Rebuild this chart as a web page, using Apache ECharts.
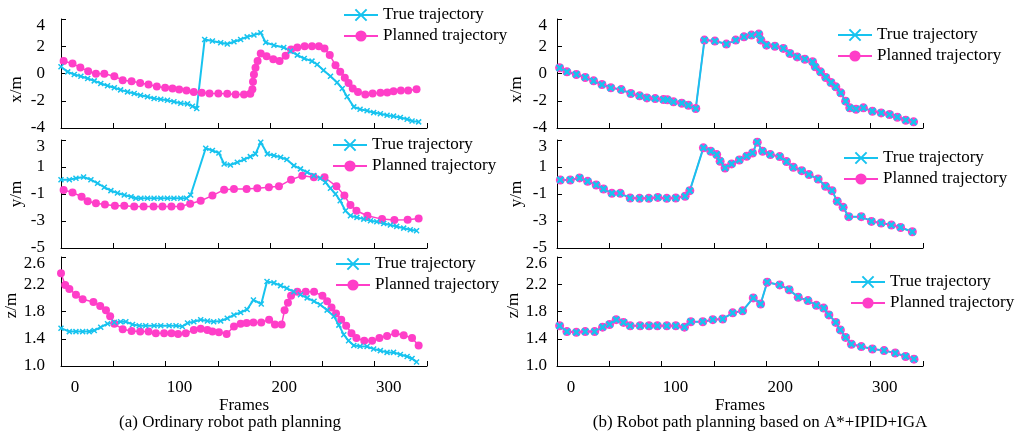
<!DOCTYPE html>
<html>
<head>
<meta charset="utf-8">
<script src="https://cdn.jsdelivr.net/npm/echarts@6/dist/echarts.min.js"></script>
<style>
html, body { margin: 0; padding: 0; background: #fff; }
#main { width: 1028px; height: 435px; }
</style>
</head>
<body>
<div id="main"></div>
<script>
// (a) ordinary path planning, [frame, value]
var aXTrue = [[0,0.49],[6.4,0.12],[12.7,-0.07],[19,-0.2],[25.5,-0.37],[31.8,-0.54],[38,-0.73],[44.5,-0.9],[51,-1.05],[57,-1.2],[63.6,-1.35],[70,-1.47],[76,-1.6],[82.7,-1.71],[89,-1.84],[95.4,-1.89],[101.8,-1.96],[108,-2.08],[114.5,-2.18],[121,-2.23],[125.7,-2.4],[129.8,-2.57],[137.4,2.5],[144.8,2.38],[152.7,2.25],[159,2.16],[165.4,2.33],[171.8,2.5],[178,2.69],[184.5,2.82],[191,2.99],[195.7,2.28],[203.6,2.08],[213,1.91],[219.5,1.64],[226,1.35],[232.6,1.1],[240,0.91],[245,0.66],[251,0.24],[257.7,-0.2],[264,-0.66],[269,-1.1],[273.6,-1.71],[280,-2.45],[286,-2.62],[292.7,-2.74],[299,-2.87],[305.4,-2.96],[311.8,-3.06],[318,-3.13],[324.5,-3.23],[331,-3.36],[335.7,-3.48],[342,-3.55]];
var aXPlan = [[2.5,0.91],[11,0.73],[18.5,0.44],[26,0.17],[33.4,-0.02],[41.4,-0.02],[51,-0.2],[59,-0.49],[67.5,-0.56],[75.7,-0.69],[83.7,-0.81],[91.6,-0.96],[99.6,-1.05],[106.6,-1.1],[113,-1.18],[120,-1.25],[127,-1.35],[134.6,-1.42],[142,-1.47],[150.5,-1.47],[159,-1.49],[167,-1.54],[175,-1.54],[181,-1.49],[183,-1.15],[183.6,-0.61],[184.5,-0.07],[186,0.42],[188,0.91],[191,1.47],[196.6,1.27],[203,1.05],[209,0.91],[214.8,1.3],[220,1.76],[226,1.91],[233,2.0],[240,2.0],[246.6,2.0],[252,1.84],[257,1.35],[262.5,0.61],[267,0.12],[271.4,-0.32],[275,-0.69],[279,-1.1],[284,-1.35],[291,-1.54],[298,-1.47],[305.5,-1.42],[312,-1.4],[318,-1.3],[325,-1.25],[332,-1.25],[340,-1.15]];

var aYTrue = [[0,0.06],[8,0.06],[14.3,0.16],[21.6,0.26],[28.6,0.06],[35,-0.21],[41.4,-0.5],[47.7,-0.75],[54,-0.93],[60.5,-1.07],[67,-1.2],[71.6,-1.32],[76.4,-1.32],[82.7,-1.32],[89,-1.32],[95.4,-1.32],[101.8,-1.32],[108,-1.32],[114.5,-1.32],[120,-1.32],[124,-1.07],[138.4,2.39],[144.8,2.22],[151,2.04],[156,1.22],[162,1.15],[168.6,1.35],[175,1.55],[181,1.77],[186,1.97],[191,2.84],[197.3,1.97],[203.6,1.85],[210,1.72],[216,1.55],[222.7,1.1],[229,0.86],[235.4,0.61],[241.8,0.36],[248,0.16],[253,-0.13],[257.7,-0.58],[262.5,-1.0],[267,-1.5],[272,-2.24],[276.8,-2.61],[283,-2.73],[289.5,-2.86],[296,-2.98],[302,-3.05],[308.6,-3.18],[315,-3.3],[321,-3.4],[327.7,-3.53],[334,-3.65],[340,-3.72]];
var aYPlan = [[2.5,-0.7],[11,-0.88],[19.7,-1.2],[25.5,-1.54],[33.4,-1.69],[42,-1.77],[51.5,-1.87],[60.5,-1.87],[70,-1.92],[79,-1.92],[88.5,-1.92],[97,-1.92],[105.6,-1.92],[114.5,-1.92],[123.5,-1.72],[133.6,-1.5],[144.8,-1.12],[156,-0.68],[165.4,-0.63],[177.5,-0.63],[187.7,-0.58],[198.8,-0.5],[208.4,-0.43],[220,0.06],[230.7,0.36],[241.8,0.24],[252,0.24],[263.4,-0.43],[271,-1.12],[276.8,-1.82],[282.5,-2.24],[293,-2.61],[307,-2.86],[318.8,-2.93],[331.5,-2.91],[342,-2.81]];

var aZTrue = [[0,1.555],[8,1.505],[14.3,1.505],[20.7,1.505],[27,1.505],[31.8,1.52],[38,1.57],[44.5,1.62],[51,1.64],[57,1.65],[62,1.65],[68.4,1.61],[74.8,1.59],[81,1.59],[89,1.59],[95.4,1.59],[103.4,1.59],[110,1.59],[116,1.58],[121,1.63],[127,1.65],[133.6,1.68],[140,1.66],[146,1.65],[152.7,1.66],[159,1.7],[165.4,1.75],[171.8,1.785],[178,1.83],[184,1.97],[191.5,1.91],[197,2.24],[203.6,2.22],[210,2.18],[216,2.14],[222.7,2.09],[229,2.045],[235.4,2.0],[242,1.95],[248,1.9],[254.5,1.82],[261,1.73],[265.7,1.6],[270.4,1.46],[275,1.37],[280,1.3],[286,1.29],[292.7,1.285],[299,1.25],[305.4,1.226],[311.8,1.2],[318,1.2],[324.5,1.17],[331,1.14],[335.7,1.11],[340,1.06]];
var aZPlan = [[0,2.36],[4,2.19],[8,2.13],[14.3,2.045],[20.7,1.98],[31,1.94],[37.5,1.88],[43,1.82],[47,1.73],[51,1.62],[59,1.54],[67.5,1.515],[75.7,1.505],[83.7,1.505],[90.7,1.48],[98.6,1.48],[105.6,1.48],[112,1.47],[119.3,1.48],[127,1.53],[133.6,1.545],[140,1.53],[144.8,1.505],[151,1.495],[158.4,1.47],[165.4,1.58],[171.8,1.62],[177.5,1.63],[184,1.64],[191.5,1.64],[199,1.68],[204.6,1.61],[211,1.61],[213.8,1.82],[217,1.93],[220,2.03],[226,2.09],[234,2.09],[242,2.09],[250,2.03],[254.5,1.95],[258.7,1.86],[263,1.77],[268,1.68],[272.7,1.59],[277.8,1.48],[282.5,1.41],[290,1.37],[297.5,1.37],[304.5,1.41],[311.8,1.44],[319.7,1.48],[327.7,1.45],[335.7,1.41],[342,1.3]];

// (b) A*+IPID+IGA: planned and true coincide
var bX = [[2.5,0.42],[9.5,0.12],[18.5,-0.07],[27,-0.29],[35,-0.54],[43,-0.81],[51.5,-1.05],[61.4,-1.18],[70.6,-1.47],[79,-1.64],[86,-1.79],[93.9,-1.84],[101.8,-1.91],[105.6,-1.93],[111.4,-2.08],[119.3,-2.18],[125.7,-2.33],[132.7,-2.57],[141,2.45],[151,2.38],[162,2.16],[170.9,2.45],[178.8,2.69],[186,2.82],[193,2.89],[195,2.45],[200.4,2.08],[208.4,2.0],[216.4,1.84],[222.7,1.47],[229.7,1.22],[237,1.05],[244.4,0.86],[247,0.49],[252,0.12],[257,-0.29],[262,-0.66],[266.6,-0.98],[271.4,-1.42],[276,-2.03],[280,-2.52],[286,-2.62],[293,-2.52],[301.6,-2.77],[310,-2.89],[318,-3.01],[325.5,-3.21],[333.5,-3.43],[341,-3.55]];
var bY = [[3.2,0.04],[12.7,0.04],[21.6,0.19],[29.3,-0.06],[37.5,-0.33],[44.5,-0.63],[52.5,-0.95],[60.5,-0.95],[70,-1.3],[79,-1.32],[87.8,-1.32],[96.4,-1.25],[105,-1.32],[113.6,-1.3],[122.5,-1.17],[127,-0.75],[140,2.42],[147,2.17],[152.7,1.92],[156,1.43],[160.7,0.93],[167,1.23],[174.4,1.52],[181.4,1.8],[187,2.04],[191.5,2.84],[196.6,2.17],[204,1.92],[213,1.77],[219.5,1.4],[226,0.98],[234,0.73],[241,0.44],[249.7,0.11],[256.8,-0.43],[263,-0.75],[268,-1.54],[273.6,-1.99],[279,-2.68],[291,-2.68],[300.7,-3.03],[310,-3.15],[319.8,-3.3],[328.6,-3.48],[339.8,-3.8]];
var bZ = [[2.5,1.59],[9.5,1.505],[18.5,1.495],[27,1.505],[36,1.505],[43.6,1.57],[50.3,1.61],[56.6,1.68],[63.6,1.64],[70,1.59],[79.5,1.59],[88,1.59],[96,1.59],[105,1.59],[113.6,1.59],[121.9,1.57],[128,1.65],[139.4,1.65],[149,1.68],[158.4,1.69],[168,1.78],[177.5,1.81],[187.7,2.0],[194.7,1.91],[201,2.23],[213,2.19],[222,2.12],[230.7,2.01],[240,1.96],[248,1.89],[255,1.85],[260,1.75],[266.6,1.64],[271,1.53],[276,1.42],[281.6,1.32],[291,1.285],[301.6,1.25],[312.8,1.226],[323.5,1.19],[333.4,1.14],[341.4,1.1]];

var yNames = ['x/m', 'y/m', 'z/m'];
var yRanges = [[-4, 4, 2], [-5, 3, 2], [1.0, 2.6, 0.4]];
var frameLabels = [0, 100, 200, 300];

var FONT = '"Liberation Serif", "Times New Roman", serif';
var CYAN = '#17C3EF';
var MAG = '#FF3EC8';
var XMARK = 'path://M0,0L10,10M10,0L0,10';

var chart = echarts.init(document.getElementById('main'));

var tops = [19, 140, 257];
var heights = [109, 108, 109];
var lefts = [61, 557];

var grids = [], xAxes = [], yAxes = [], series = [], legends = [];
var legendPos = [[343, 6.5], [332, 136.5], [335, 255.5], [837, 26.5], [843, 149.5], [850, 273.5]];
var namePads = [[0, 32, 0, 0], [0, 0, 0, 0], [0, 0, 0, 12]];

for (var c = 0; c < 2; c++) {
  for (var r = 0; r < 3; r++) {
    var i = c * 3 + r;
    var rg = yRanges[r];
    grids.push({ left: lefts[c], top: tops[r], width: 366, height: heights[r], outerBoundsMode: 'none' });
    xAxes.push({
      type: 'value', gridIndex: i, min: 0, max: 350, interval: 50,
      axisLine: { onZero: false, lineStyle: { color: '#000', width: 1 } },
      axisTick: { inside: true, length: 5, lineStyle: { color: '#000' } },
      splitLine: { show: false },
      axisLabel: {
        show: r === 2, color: '#000', fontFamily: FONT, fontSize: 17, margin: 13,
        padding: [0, 0, 0, 28],
        formatter: function (v) { return frameLabels.indexOf(v) >= 0 ? String(v) : ''; }
      },
      name: r === 2 ? 'Frames' : '', nameLocation: 'middle', nameGap: 27,
      nameTextStyle: { color: '#000', fontFamily: FONT, fontSize: 17 }
    });
    (function (rg, r, c) {
      yAxes.push({
        type: 'value', gridIndex: i, min: rg[0], max: rg[1], interval: rg[2],
        axisLine: { show: true, onZero: false, lineStyle: { color: '#000', width: 1 } },
        axisTick: { show: true, inside: true, length: 5, lineStyle: { color: '#000' } },
        splitLine: { show: false },
        axisLabel: {
          color: '#000', fontFamily: FONT, fontSize: 17, margin: c === 0 ? 16 : 10,
          formatter: function (v) {
            var s = r === 2 ? v.toFixed(1) : String(Math.round(v));
            return Math.abs(v - rg[1]) < 1e-6 ? '{t|' + s + '}' : s;
          },
          rich: { t: { padding: [14, 0, 0, 0], fontFamily: FONT, fontSize: 17, color: '#000' } }
        },
        name: yNames[r], nameLocation: 'middle', nameRotate: 90, nameGap: c === 0 ? 36 : 32,
        nameTextStyle: { color: '#000', fontFamily: FONT, fontSize: 17, padding: namePads[r] }
      });
    })(rg, r, c);

    var planData, trueData;
    if (c === 0) {
      planData = [aXPlan, aYPlan, aZPlan][r];
      trueData = [aXTrue, aYTrue, aZTrue][r];
    } else {
      planData = [bX, bY, bZ][r];
      trueData = planData;
    }
    series.push({
      name: 'Planned trajectory', type: 'line', xAxisIndex: i, yAxisIndex: i,
      data: planData, symbol: 'circle', symbolSize: c === 0 ? 8 : 9,
      itemStyle: { color: MAG }, lineStyle: { color: MAG, width: 1.5 },
      animation: false
    });
    series.push({
      name: 'True trajectory', type: 'line', xAxisIndex: i, yAxisIndex: i,
      data: trueData, symbol: XMARK, symbolSize: c === 0 ? 5 : 6,
      itemStyle: { color: CYAN, borderColor: CYAN, borderWidth: c === 0 ? 1.5 : 2.5 },
      lineStyle: { color: CYAN, width: 2 },
      animation: false
    });
    legends.push({
      orient: 'vertical', left: legendPos[i][0], top: legendPos[i][1], padding: 0,
      itemWidth: 34, itemHeight: 14, itemGap: 4,
      data: ['True trajectory', 'Planned trajectory'],
      textStyle: { color: '#000', fontFamily: FONT, fontSize: 17, lineHeight: 17 },
      selectedMode: false
    });
  }
}

chart.setOption({
  backgroundColor: '#fff',
  animation: false,
  grid: grids,
  xAxis: xAxes,
  yAxis: yAxes,
  legend: legends,
  series: series,
  graphic: [
    { type: 'text', x: 230, y: 423, style: { text: '(a) Ordinary robot path planning', font: '17px ' + FONT, fill: '#000', align: 'center', verticalAlign: 'middle' } },
    { type: 'text', x: 760, y: 423, style: { text: '(b) Robot path planning based on A*+IPID+IGA', font: '17px ' + FONT, fill: '#000', align: 'center', verticalAlign: 'middle' } }
  ]
});
</script>
</body>
</html>
